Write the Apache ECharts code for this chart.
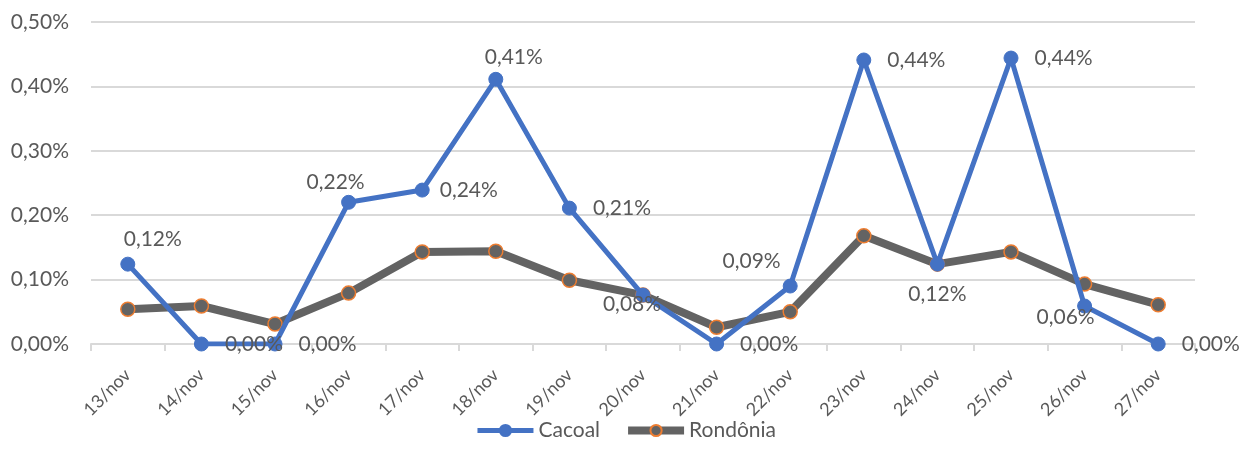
<!DOCTYPE html>
<html><head><meta charset="utf-8">
<script src="https://cdn.jsdelivr.net/npm/echarts@6/dist/echarts.min.js"></script>
<style>html,body{margin:0;padding:0;background:#fff}#c{width:1251px;height:450px}</style>
</head><body><div id="c"></div>
<script>
const categories = ['13/nov','14/nov','15/nov','16/nov','17/nov','18/nov','19/nov','20/nov','21/nov','22/nov','23/nov','24/nov','25/nov','26/nov','27/nov'];
const cacoal = [0.124, 0.0, 0.0, 0.220, 0.239, 0.411, 0.211, 0.076, 0.0, 0.090, 0.441, 0.124, 0.444, 0.059, 0.0];
const rondonia = [0.054, 0.059, 0.031, 0.079, 0.143, 0.144, 0.099, 0.076, 0.026, 0.050, 0.168, 0.124, 0.143, 0.093, 0.061];
const yTicks = { min: 0, max: 0.5, interval: 0.1 };

const FONT = 'Lato';
const TXT = '#595959';
const fmt = v => v.toFixed(2).replace('.', ',') + '%';

// label placement per point (style only)
const labelStyles = [
  {position:'top', distance:7, offset:[25,0]},
  {position:'right', distance:16},
  {position:'right', distance:16},
  {position:'top', distance:2, offset:[-13,0]},
  {position:'right', distance:10},
  {position:'top', distance:4, offset:[18,0]},
  {position:'right', distance:16},
  {position:'inside', offset:[-11,9]},
  {position:'right', distance:16},
  {position:'left', distance:2, offset:[0,-25]},
  {position:'right', distance:16},
  {position:'bottom', distance:12},
  {position:'right', distance:16},
  {position:'inside', offset:[-19,11]},
  {position:'right', distance:16}
];

const chart = echarts.init(document.getElementById('c'), null, {renderer:'canvas'});
chart.setOption({
  animation: false,
  textStyle: { fontFamily: FONT, color: TXT },
  grid: { left: 91, right: 56, top: 22, bottom: 106, containLabel: false },
  legend: {
    bottom: 4, left: 'center',
    itemWidth: 56, itemHeight: 14, itemGap: 24,
    textStyle: { fontFamily: FONT, fontSize: 21, color: TXT },
    data: [
      { name: 'Cacoal', lineStyle: { width: 5 } },
      { name: 'Rondônia', lineStyle: { width: 8 } }
    ]
  },
  xAxis: {
    type: 'category', data: categories, boundaryGap: true,
    axisLine: { lineStyle: { color: '#d9d9d9', width: 2 } },
    axisTick: { show: true, alignWithLabel: false, length: 7, lineStyle: { color: '#d9d9d9', width: 2 } },
    axisLabel: { rotate: 45, fontSize: 18, color: TXT, fontFamily: FONT, margin: 28, interval: 0 },
    splitLine: { show: false }
  },
  yAxis: {
    type: 'value', min: yTicks.min, max: yTicks.max, interval: yTicks.interval,
    axisLine: { show: false }, axisTick: { show: false },
    axisLabel: { formatter: v => fmt(v), fontSize: 21, color: TXT, fontFamily: FONT, margin: 22 },
    splitLine: { lineStyle: { color: '#d9d9d9', width: 2 } }
  },
  series: [
    {
      name: 'Rondônia', type: 'line', data: rondonia, z: 2,
      symbol: 'circle', symbolSize: 14,
      lineStyle: { color: '#636363', width: 8 },
      itemStyle: { color: '#636363', borderColor: '#ED7D31', borderWidth: 1.5 },
      label: { show: false }
    },
    {
      name: 'Cacoal', type: 'line', z: 3,
      data: cacoal.map((v, i) => ({ value: v, label: labelStyles[i] })),
      symbol: 'circle', symbolSize: 14,
      lineStyle: { color: '#4472C4', width: 5 },
      itemStyle: { color: '#4472C4', borderColor: '#4472C4', borderWidth: 1 },
      label: { show: true, formatter: p => fmt(p.value), fontSize: 21, color: TXT, fontFamily: FONT }
    }
  ]
});
</script></body></html>
